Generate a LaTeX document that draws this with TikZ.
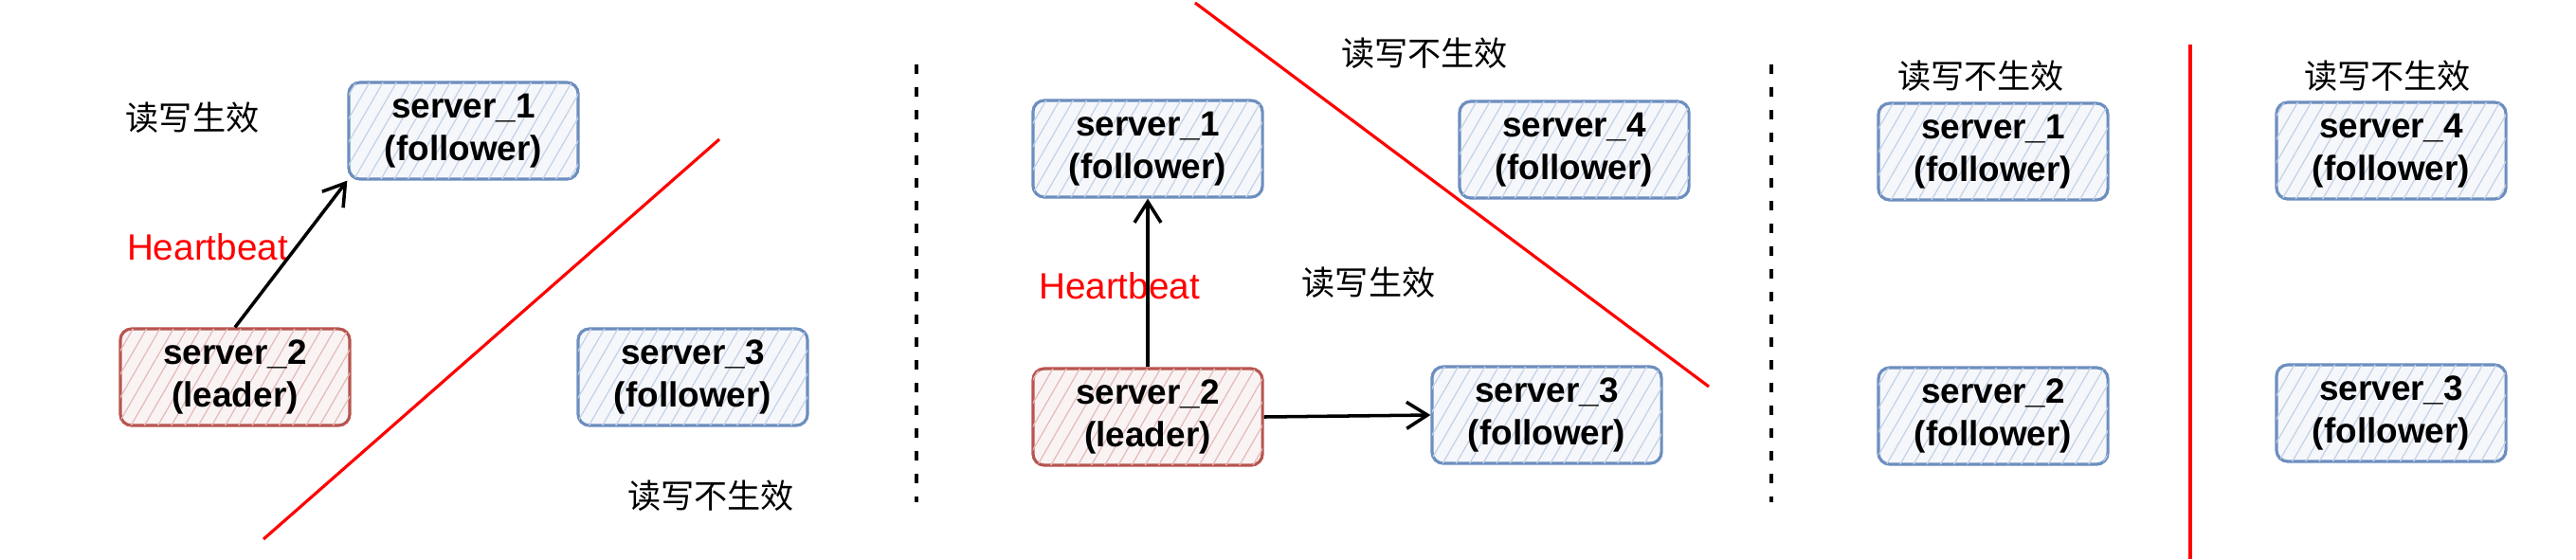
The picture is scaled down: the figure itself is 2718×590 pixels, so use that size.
\documentclass[tikz,border=0pt]{standalone}
\usepackage{fontspec}
\setmainfont{Liberation Sans}
\newfontfamily\cjk{Noto Sans CJK SC}
\usetikzlibrary{arrows.meta}
\usetikzlibrary{patterns.meta}
\definecolor{fblue}{HTML}{6C8EBF}
\definecolor{fred}{HTML}{B85450}
\tikzset{>={Straight Barb[length=2.2mm,width=2.8mm]}}
\tikzset{
  box/.style={draw=#1, line width=0.9pt, rounded corners=1.2mm,
    fill=#1!7, postaction={pattern={Lines[angle=60,distance=3.5pt,line width=0.35pt]}, pattern color=#1!40},
    minimum width=2.42cm, minimum height=1.02cm, align=center,
    font=\bfseries\fontsize{10.5}{12.8}\selectfont},
  follower/.style={box=fblue},
  leader/.style={box=fred},
  note/.style={font=\cjk\fontsize{10}{12}\selectfont},
  beat/.style={text=red, font=\fontsize{11}{13}\selectfont},
  cut/.style={red, line width=0.9pt},
  split/.style={black, line width=0.9pt, dash pattern=on 0.1cm off 0.14cm}
}

\begin{document}
\begin{tikzpicture}[x=0.01cm,y=-0.01cm]
    \useasboundingbox (0,0) rectangle (2718,590);

    % Panel 1: leader with one follower
    \node[follower] (s1a) at (489,138) {server\_1\\(follower)};
    \node[leader]   (s2a) at (248,398) {server\_2\\(leader)};
    \node[follower] (s3a) at (731,398) {server\_3\\(follower)};
    \node[note] (oka) at (203,124) {读写生效};
    \node[beat] (hba) at (219,261) {Heartbeat};
    \node[note] (noa) at (750,523) {读写不生效};
    \draw[->, line width=1pt] (s2a.north) -- (s1a.south west);
    \coordinate (ca1) at (759,147);
    \coordinate (ca2) at (278,569);
    \draw[cut] (ca1) -- (ca2);

    % Separator
    \coordinate (d1t) at (967,68);
    \coordinate (d1b) at (967,530);
    \draw[split] (d1t) -- (d1b);

    % Panel 2: leader with two followers
    \node[follower] (s1b) at (1211,157) {server\_1\\(follower)};
    \node[follower] (s4b) at (1661,158) {server\_4\\(follower)};
    \node[leader]   (s2b) at (1211,440) {server\_2\\(leader)};
    \node[follower] (s3b) at (1632,438) {server\_3\\(follower)};
    \node[note] (nob) at (1503,56) {读写不生效};
    \node[beat] (hbb) at (1181,302) {Heartbeat};
    \node[note] (okb) at (1444,298) {读写生效};
    \draw[->, line width=1pt] (s2b.north) -- (s1b.south);
    \draw[->, line width=1pt] (s2b.east) -- (s3b.west);
    \coordinate (cb1) at (1261,3);
    \coordinate (cb2) at (1803,408);
    \draw[cut] (cb1) -- (cb2);

    % Separator
    \coordinate (d2t) at (1869,68);
    \coordinate (d2b) at (1869,530);
    \draw[split] (d2t) -- (d2b);

    % Panel 3 and 4: no leader
    \node[follower] (s1c) at (2103,160) {server\_1\\(follower)};
    \node[follower] (s2c) at (2103,439) {server\_2\\(follower)};
    \node[note] (noc) at (2090,80) {读写不生效};
    \node[follower] (s4d) at (2523,159) {server\_4\\(follower)};
    \node[follower] (s3d) at (2523,436) {server\_3\\(follower)};
    \node[note] (nod) at (2519,80) {读写不生效};
    \coordinate (cc1) at (2311,47);
    \coordinate (cc2) at (2311,590);
    \draw[cut] (cc1) -- (cc2);

\end{tikzpicture}
\end{document}
